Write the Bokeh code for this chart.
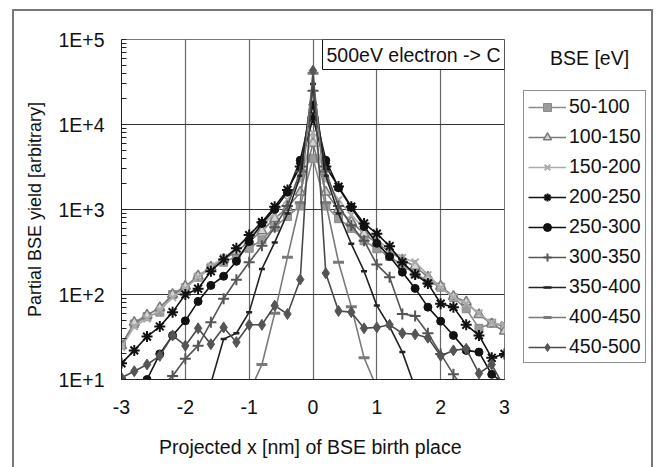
from bokeh.plotting import figure
from bokeh.models import Range1d, FixedTicker, Label, Legend, LegendItem, Row
from bokeh.embed import file_html
from bokeh.resources import INLINE

# ---------------- data ----------------
x_nm = [-3.0, -2.8, -2.6, -2.4, -2.2, -2.0, -1.8, -1.6, -1.4, -1.2, -1.0,
        -0.8, -0.6, -0.4, -0.2, 0.0, 0.2, 0.4, 0.6, 0.8, 1.0,
        1.2, 1.4, 1.6, 1.8, 2.0, 2.2, 2.4, 2.6, 2.8, 3.0]

bse_50_100 = [26, 45, 55, 62, 100, 120, 160, 205, 240, 280, 350,
              440, 620, 830, 1100, 4000, 1100, 780, 600, 430, 345,
              280, 220, 175, 145, 122, 92, 68, 40, 46, 42]
bse_100_150 = [25, 47, 57, 70, 100, 125, 165, 210, 260, 320, 420,
               560, 780, 1050, 1600, 6000, 1600, 1000, 720, 520, 400,
               320, 255, 215, 160, 125, 95, 82, 58, 45, 37]
bse_150_200 = [24, 42, 52, 66, 92, 118, 160, 215, 270, 350, 470,
               650, 900, 1300, 2200, 8000, 2200, 1300, 860, 600, 440,
               340, 270, 240, 170, 120, 93, 78, 60, 46, 44]
bse_200_250 = [15.5, 22, 32, 42, 62, 100, 117, 188, 258, 350, 500,
               710, 1080, 1700, 3200, 12000, 3200, 1860, 1080, 685, 520,
               370, 240, 172, 135, 78, 71, 44, 33, 18, 20]
bse_250_300 = [10, 9, 10, 20, 33, 49, 83, 128, 164, 246, 420,
               685, 1000, 1600, 3800, 17000, 3800, 1800, 1060, 630, 400,
               280, 183, 118, 71, 48.5, 33, 22, 21, 11.5, 9]
bse_300_350 = [4, 5, 6, 8, 11, 17.5, 25, 47, 89, 149, 240,
               375, 620, 1100, 2800, 25000, 2800, 1100, 650, 430, 225,
               160, 59, 56, 35, 20, 11.5, 7, 5, 4, 3]
bse_350_400 = [1.5, 2, 2.5, 3, 3.5, 4, 5, 9, 30, 35, 62,
               200, 410, 900, 2500, 30000, 2500, 900, 395, 188, 74,
               42, 21, 8, 5, 4, 3.5, 3, 2.5, 2, 1.5]
bse_400_450 = [1, 1, 1, 1.5, 1.5, 2, 2, 2.5, 3, 4, 7,
               15, 60, 275, 1200, 40000, 1200, 240, 72, 18, 8,
               4, 3, 2.5, 2, 2, 1.5, 1.5, 1, 1, 1]
bse_450_500 = [10.5, 12.5, 15, 19, 33, 25, 40, 26, 41, 27.5, 44,
               44, 74, 59, 150, 43000, 178, 64, 62, 40, 41,
               44, 35, 34, 31, 19, 22, 23, 11.8, 15, 8]

series_labels = ["50-100", "100-150", "150-200", "200-250", "250-300",
                 "300-350", "350-400", "400-450", "450-500"]
series_values = [bse_50_100, bse_100_150, bse_150_200, bse_200_250, bse_250_300,
                 bse_300_350, bse_350_400, bse_400_450, bse_450_500]

y_tick_values = [10, 100, 1000, 10000, 100000]
y_tick_labels = ["1E+1", "1E+2", "1E+3", "1E+4", "1E+5"]
x_tick_values = [-3, -2, -1, 0, 1, 2, 3]
x_tick_labels = ["-3", "-2", "-1", "0", "1", "2", "3"]

# ---------------- styles ----------------
styles = [
    dict(line="#8a8a8a", marker="square", mfill="#9a9a9a", mline="#8a8a8a", size=8, mw=1),
    dict(line="#7a7a7a", marker="triangle", mfill="#d4d4d4", mline="#7a7a7a", size=10, mw=1.5),
    dict(line="#ababab", marker="x", mfill="#ababab", mline="#ababab", size=10, mw=2),
    dict(line="#111111", marker="asterisk", mfill="#111111", mline="#111111", size=11, mw=2),
    dict(line="#111111", marker="circle", mfill="#111111", mline="#111111", size=8, mw=1),
    dict(line="#555555", marker="cross", mfill="#555555", mline="#555555", size=11, mw=2),
    dict(line="#222222", marker="dash", mfill="#222222", mline="#222222", size=6, mw=2.5),
    dict(line="#7a7a7a", marker="dash", mfill="#7a7a7a", mline="#7a7a7a", size=11, mw=3),
    dict(line="#4a4a4a", marker="diamond", mfill="#555555", mline="#555555", size=11, mw=1),
]

FONT = "Liberation Sans"
MAIN_W = 512
SIDE_W = 657 - MAIN_W
H = 467
TOP, BOTTOM = 39, 88          # frame borders shared by both figures
LEG_LEFT = 523                # canvas x of legend box left edge
LEG_BOTTOM = 363              # canvas y of legend box bottom edge

p = figure(width=MAIN_W, height=H, x_range=Range1d(-3, 3), y_range=Range1d(10, 1e5),
           y_axis_type="log", output_backend="svg", toolbar_location=None,
           min_border_left=121, min_border_right=MAIN_W - 504, min_border_top=TOP,
           min_border_bottom=BOTTOM, background_fill_color="white",
           border_fill_color="white", outline_line_color="#777777")

# side figure: legend + legend heading, in canvas-pixel coordinates
p2 = figure(width=SIDE_W, height=H, x_range=Range1d(LEG_LEFT, 657),
            y_range=Range1d(H - BOTTOM, TOP), output_backend="svg", toolbar_location=None,
            x_axis_location=None, y_axis_location=None, min_border_left=LEG_LEFT - MAIN_W,
            min_border_right=0, min_border_top=TOP, min_border_bottom=BOTTOM,
            outline_line_color=None, background_fill_color="white",
            border_fill_color="white")
p2.grid.visible = False

items = []
for lab, vals, st in zip(series_labels, series_values, styles):
    p.line(x_nm, vals, line_color=st["line"], line_width=1.6)
    p.scatter(x_nm, vals, marker=st["marker"], size=st["size"],
              fill_color=st["mfill"], line_color=st["mline"], line_width=st["mw"])
    # legend proxies (same style), one point placed outside the visible side frame
    lr = p2.line([0], [0], line_color=st["line"], line_width=1.6)
    sr = p2.scatter([0], [0], marker=st["marker"], size=st["size"] - 1,
                    fill_color=st["mfill"], line_color=st["mline"], line_width=st["mw"])
    items.append(LegendItem(label=lab, renderers=[lr, sr]))

# axes
p.xaxis.ticker = FixedTicker(ticks=x_tick_values)
p.xaxis.major_label_overrides = dict(zip(x_tick_values, x_tick_labels))
minor = [m * 10 ** e for e in range(1, 5) for m in range(2, 10)]
p.yaxis.ticker = FixedTicker(ticks=y_tick_values, minor_ticks=minor)
p.yaxis.major_label_overrides = dict(zip(y_tick_values, y_tick_labels))

for ax in (p.xaxis[0], p.yaxis[0]):
    ax.major_label_text_font = FONT
    ax.major_label_text_font_size = "19.5px"
    ax.major_label_text_color = "#111111"
    ax.axis_label_text_font = FONT
    ax.axis_label_text_font_style = "normal"
    ax.axis_label_text_color = "#111111"
    ax.axis_line_color = "#222222"
    ax.major_tick_out = 0
    ax.minor_tick_out = 0

p.xaxis.major_tick_in = 0
p.xaxis.minor_tick_line_color = None
p.xaxis.major_label_standoff = 20
p.xaxis.axis_label = "Projected x [nm] of BSE birth  place"
p.xaxis.axis_label_text_font_size = "19.5px"
p.xaxis.axis_label_standoff = 19

p.yaxis.major_tick_in = 5
p.yaxis.minor_tick_in = 5
p.yaxis.major_tick_line_color = "#222222"
p.yaxis.minor_tick_line_color = "#222222"
p.yaxis.major_label_standoff = 17
p.yaxis.axis_label = "Partial BSE yield [arbitrary]"
p.yaxis.axis_label_text_font_size = "18px"
p.yaxis.axis_label_standoff = 10

p.xgrid.grid_line_color = "#666666"
p.ygrid.grid_line_color = "#333333"
p.xgrid.grid_line_width = 1.2
p.ygrid.grid_line_width = 1.2

# annotation box
p.add_layout(Label(x=3, y=1e5, text="500eV electron -> C", text_align="right",
                   text_baseline="top", text_font=FONT, text_font_size="19.5px",
                   text_color="#111111", border_line_color="#111111",
                   background_fill_color="white", padding=4))

# legend heading
p2.add_layout(Label(x=589, y=57, text="BSE [eV]", text_align="center",
                    text_baseline="middle", text_font=FONT, text_font_size="19.5px",
                    text_color="#111111"))

legend = Legend(items=items, location=(0, H - BOTTOM - LEG_BOTTOM),
                border_line_color="#222222",
                border_line_width=1.2, label_text_font=FONT, label_text_font_size="19.5px",
                label_text_color="#111111", glyph_width=38, glyph_height=20,
                label_height=20, label_width=60, spacing=7, padding=4, margin=0,
                label_standoff=3, background_fill_alpha=1.0)
p2.add_layout(legend)

css = (":host { position: relative; overflow: hidden; } "
       ":host::after { content: ''; position: absolute; left: 12px; top: 9px; "
       "width: 641px; height: 520px; border: 2px solid #777777; box-sizing: border-box; "
       "pointer-events: none; }")
layout = Row(children=[p, p2], stylesheets=[css], spacing=0)

open("out.html", "w").write(file_html(layout, INLINE))
